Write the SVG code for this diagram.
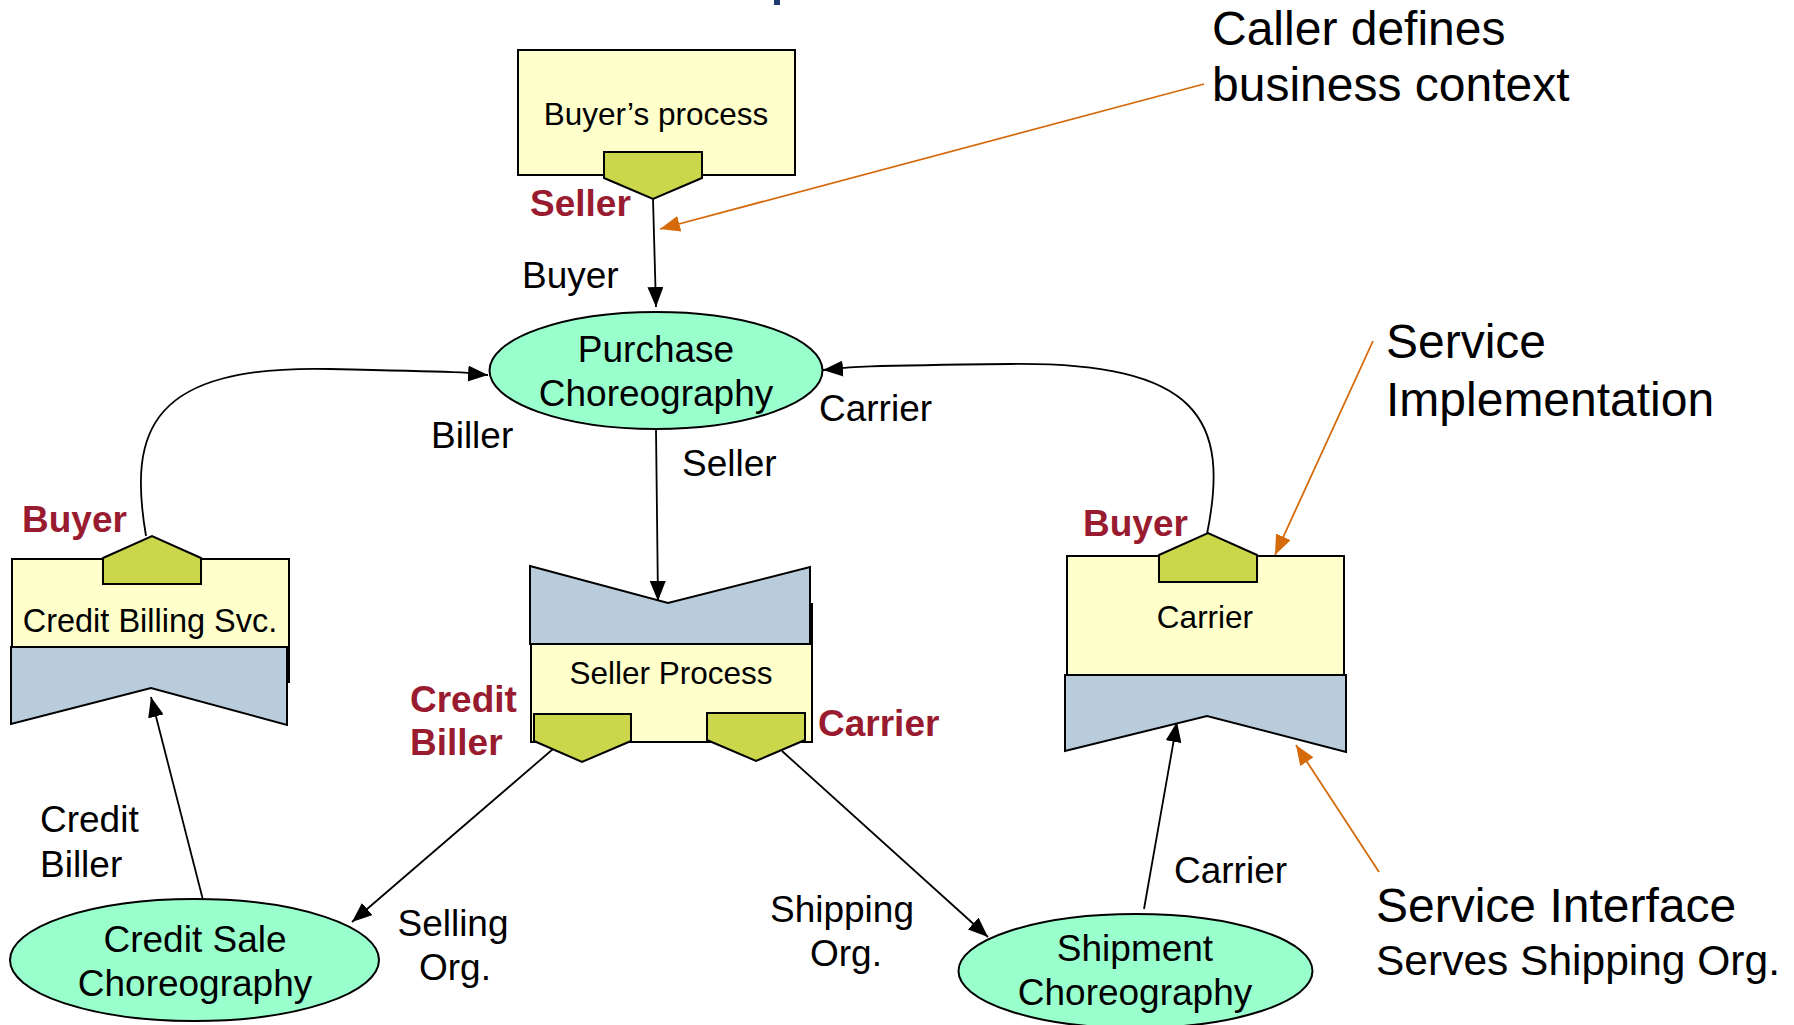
<svg xmlns="http://www.w3.org/2000/svg" width="1794" height="1025" viewBox="0 0 1794 1025">
<style>
text{font-family:"Liberation Sans",Arial,Helvetica,sans-serif;fill:#000}
.lbl{font-size:37px}
.box{font-size:31.5px}
.role{font-size:37px;font-weight:bold;fill:#991B2F}
.note{font-size:48px}
.proc{fill:#FFFFCC;stroke:#000;stroke-width:2}
.iface{fill:#B8CCDC;stroke:#000;stroke-width:2}
.port{fill:#CCD64A;stroke:#000;stroke-width:2}
.chor{fill:#99FFCC;stroke:#000;stroke-width:2}
.conn{fill:none;stroke:#000;stroke-width:1.8}
.ann{fill:none;stroke:#D46A0A;stroke-width:1.8}
</style>
<defs>
<marker id="ah" viewBox="0 0 20 16" refX="20" refY="8" markerWidth="20" markerHeight="16" orient="auto" markerUnits="userSpaceOnUse"><path d="M0,0 L20,8 L0,16 z" fill="#000"/></marker>
<marker id="ao" viewBox="0 0 20 16" refX="20" refY="8" markerWidth="20" markerHeight="16" orient="auto" markerUnits="userSpaceOnUse"><path d="M0,0 L20,8 L0,16 z" fill="#D46A0A"/></marker>
</defs>
<rect width="1794" height="1025" fill="#fff"/>
<rect x="774" y="0" width="6" height="5" fill="#1F3A6E"/>

<g id="connectors">
<line class="conn" x1="653" y1="199" x2="656" y2="307" marker-end="url(#ah)"/>
<path class="conn" d="M146,536 C128,430 150,365 330,369 S460,373 488,375" marker-end="url(#ah)"/>
<path class="conn" d="M1207,534 C1230,420 1200,362 1010,364 S850,368 823,370" marker-end="url(#ah)"/>
<line class="conn" x1="656" y1="429" x2="658" y2="601" marker-end="url(#ah)"/>
<line class="conn" x1="203" y1="900" x2="151" y2="697" marker-end="url(#ah)"/>
<line class="conn" x1="553" y1="749" x2="352" y2="922" marker-end="url(#ah)"/>
<line class="conn" x1="782" y1="751" x2="988" y2="937" marker-end="url(#ah)"/>
<line class="conn" x1="1144" y1="909" x2="1177" y2="722" marker-end="url(#ah)"/>
<line class="ann" x1="1204" y1="84" x2="660" y2="229" marker-end="url(#ao)"/>
<line class="ann" x1="1373" y1="341" x2="1275" y2="555" marker-end="url(#ao)"/>
<line class="ann" x1="1379" y1="872" x2="1296" y2="745" marker-end="url(#ao)"/>
</g>

<g id="buyers-process">
<rect class="proc" x="518" y="50" width="277" height="125"/>
<text class="box" x="656" y="125" text-anchor="middle">Buyer’s process</text>
<polygon class="port" points="604,152 702,152 702,178 653,199 604,178"/>
<text class="role" x="530" y="216">Seller</text>
</g>

<g id="purchase-choreography">
<ellipse class="chor" cx="656" cy="370.5" rx="166.5" ry="58.5"/>
<text class="lbl" x="656" y="362" text-anchor="middle">Purchase</text>
<text class="lbl" x="656" y="406" text-anchor="middle">Choreography</text>
</g>

<g id="credit-billing-svc">
<rect class="proc" x="12" y="559" width="277" height="123"/>
<polygon class="iface" points="11,647 287,647 287,725 151,688 11,724"/>
<polygon class="port" points="103,558 152,536 201,558 201,584 103,584"/>
<text x="150" y="632" text-anchor="middle" style="font-size:32.5px">Credit Billing Svc.</text>
<text class="role" x="22" y="532">Buyer</text>
</g>

<g id="seller-process">
<rect class="proc" x="531" y="604" width="281" height="138"/>
<polygon class="iface" points="530,566 668,603 810,567 810,644 530,644"/>
<text class="box" x="671" y="684" text-anchor="middle">Seller Process</text>
<polygon class="port" points="534,714 631,714 631,741 582,762 534,741"/>
<polygon class="port" points="707,713 805,713 805,740 756,761 707,740"/>
<text class="role" x="410" y="712">Credit</text>
<text class="role" x="410" y="755">Biller</text>
<text class="role" x="818" y="736">Carrier</text>
</g>

<g id="carrier">
<rect class="proc" x="1067" y="556" width="277" height="119"/>
<polygon class="iface" points="1065,675 1346,675 1346,752 1207,716 1065,751"/>
<polygon class="port" points="1159,555 1208,533 1257,555 1257,582 1159,582"/>
<text class="box" x="1205" y="628" text-anchor="middle">Carrier</text>
<text class="role" x="1083" y="536">Buyer</text>
</g>

<g id="credit-sale-choreography">
<ellipse class="chor" cx="194.5" cy="960" rx="184.5" ry="61"/>
<text class="lbl" x="195" y="952" text-anchor="middle">Credit Sale</text>
<text class="lbl" x="195" y="996" text-anchor="middle">Choreography</text>
</g>

<g id="shipment-choreography">
<ellipse class="chor" cx="1135.5" cy="971" rx="177" ry="57"/>
<text class="lbl" x="1135" y="961" text-anchor="middle">Shipment</text>
<text class="lbl" x="1135" y="1005" text-anchor="middle">Choreography</text>
</g>

<g id="labels">
<text class="lbl" x="522" y="288">Buyer</text>
<text class="lbl" x="431" y="448">Biller</text>
<text class="lbl" x="819" y="421">Carrier</text>
<text class="lbl" x="682" y="476">Seller</text>
<text class="lbl" x="40" y="832">Credit</text>
<text class="lbl" x="40" y="877">Biller</text>
<text class="lbl" x="453" y="936" text-anchor="middle">Selling</text>
<text class="lbl" x="455" y="980" text-anchor="middle">Org.</text>
<text class="lbl" x="842" y="922" text-anchor="middle">Shipping</text>
<text class="lbl" x="846" y="966" text-anchor="middle">Org.</text>
<text class="lbl" x="1174" y="883">Carrier</text>
</g>

<g id="annotations">
<text class="note" x="1212" y="45">Caller defines</text>
<text class="note" x="1212" y="101">business context</text>
<text class="note" x="1386" y="358">Service</text>
<text class="note" x="1386" y="416">Implementation</text>
<text class="note" x="1376" y="922">Service Interface</text>
<text x="1376" y="975" style="font-size:42.5px">Serves Shipping Org.</text>
</g>
</svg>
